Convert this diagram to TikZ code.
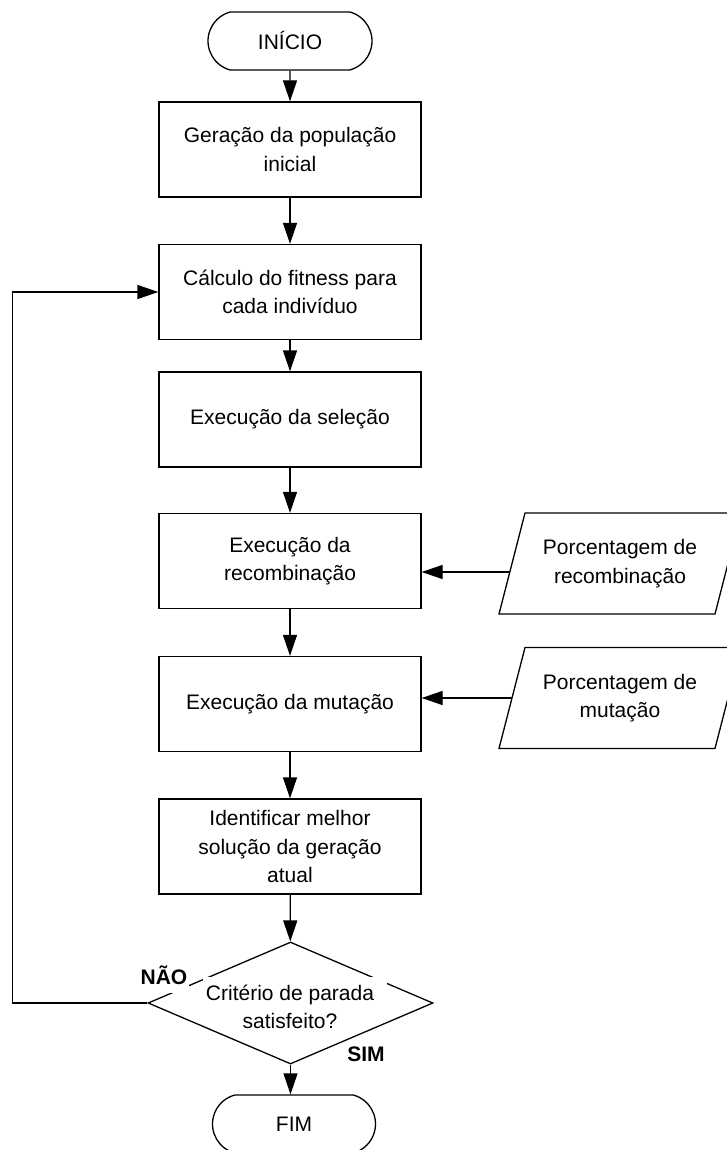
\documentclass[tikz,border=0pt]{standalone}
\usepackage{fontspec}
\setmainfont{Liberation Sans}
\usetikzlibrary{shapes.geometric,shapes.misc,arrows.meta,calc}
\begin{document}
\begin{tikzpicture}[x=1pt,y=-1pt,
  every node/.style={font=\fontsize{21}{28.5}\selectfont, align=center, inner sep=0pt},
  proc/.style={draw, line width=1.3pt, minimum width=262pt, minimum height=95pt},
  term/.style={draw, line width=1.3pt, rounded rectangle, rounded rectangle arc length=150, minimum width=164pt, minimum height=58pt},
  dataline/.style={draw, line width=1.3pt, line join=miter},
  decis/.style={draw, line width=1.3pt, diamond, minimum width=285pt, minimum height=122pt},
  flow/.style={line width=1.3pt, -{Triangle[length=21pt,width=14pt]}},
  lbl/.style={font=\fontsize{21}{25}\selectfont\bfseries}
]
\clip (0,0) rectangle (727,1150);
\fill[white] (0,0) rectangle (727,1150);

\node[term] (ini) at (290,41) {INÍCIO};
\node[proc] (b1) at (290,149.5) {Geração da população\\inicial};
\node[proc] (b2) at (290,292) {Cálculo do fitness para\\cada indivíduo};
\node[proc] (b3) at (290,419.5) {Execução da seleção};
\node[proc] (b4) at (290,561) {Execução da\\recombinação};
\node[proc] (b5) at (290,704) {Execução da mutação};
\node[proc] (b6) at (290,846.5) {Identificar melhor\\solução da geração\\atual};
\node[decis] (dec) at (290.5,1003) {};
\node[fill=white, minimum width=184pt, minimum height=40pt] (dmask) at (295,997) {};
\node (dtext) at (290,1007) {Critério de parada\\satisfeito?};
\node[lbl, fill=white, inner xsep=2pt, inner ysep=4pt, text depth=5pt] (nao) at (164,977.5) {NÃO};
\node[lbl] (sim) at (366,1054.5) {SIM};
\node[term, minimum width=163pt] (fim) at (294,1124) {FIM};

\node (p1) at (620,563.5) {Porcentagem de\\recombinação};
\draw[dataline] ($(p1)+(-95,-50.5)$) -- ($(p1)+(121,-50.5)$) -- ($(p1)+(95,50.5)$) -- ($(p1)+(-121,50.5)$) -- cycle;
\node (p2) at (620,698) {Porcentagem de\\mutação};
\draw[dataline] ($(p2)+(-95,-50.5)$) -- ($(p2)+(121,-50.5)$) -- ($(p2)+(95,50.5)$) -- ($(p2)+(-121,50.5)$) -- cycle;

\coordinate (p1in) at ($(p1)+(-110,8.5)$);
\coordinate (p2in) at ($(p2)+(-108,0)$);
\coordinate (loopx) at (12.7,0);

\draw[flow] (ini) -- (b1);
\draw[flow] (b1) -- (b2);
\draw[flow] (b2) -- (b3);
\draw[flow] (b3) -- (b4);
\draw[flow] (b4) -- (b5);
\draw[flow] (b5) -- (b6);
\draw[flow] (b6) -- (dec);
\draw[flow] (dec.south) -- (dec.south |- fim.north);
\draw[flow] (dec.west) -- (dec.west -| loopx) -- (loopx |- b2.west) -- (b2.west);
\draw[flow] (p1in) -- (p1in -| b4.east);
\draw[flow] (p2in) -- (p2in -| b5.east);
\end{tikzpicture}
\end{document}
